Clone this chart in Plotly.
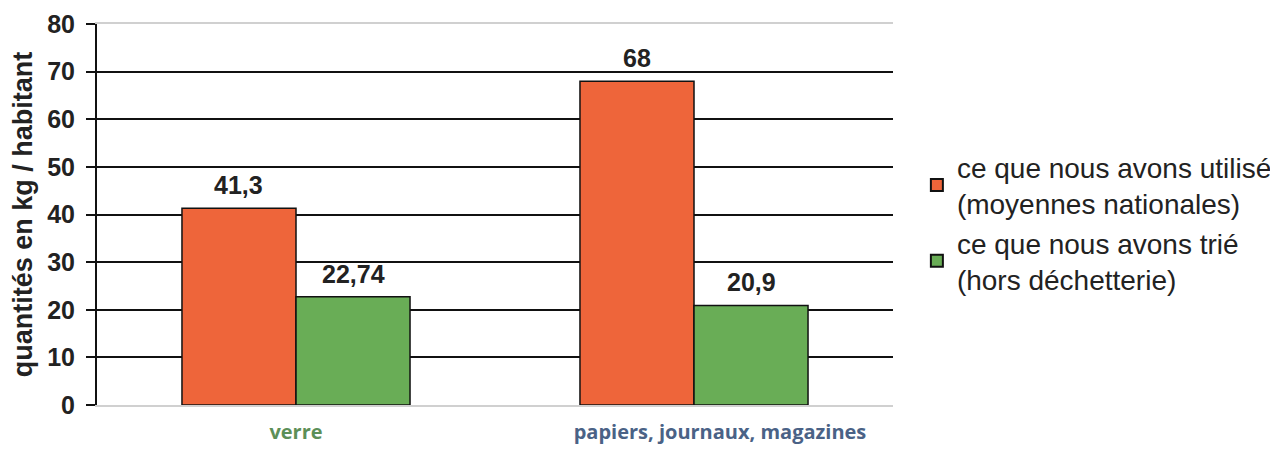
import plotly.graph_objects as go

categories = ["verre", "papiers, journaux, magazines"]
cat_colors = ["#5c8f58", "#4a6286"]
series_names = ["ce que nous avons utilisé<br>(moyennes nationales)",
                "ce que nous avons trié<br>(hors déchetterie)"]
utilise = [41.3, 68]
trie = [22.74, 20.9]
y_ticks = [0, 10, 20, 30, 40, 50, 60, 70, 80]

colors = ["#ee653a", "#69ad56"]
BARGAP = 0.427


def fmt(v):
    return ("%g" % v).replace(".", ",")


fig = go.Figure()
for name, vals, col in zip(series_names, [utilise, trie], colors):
    fig.add_trace(go.Bar(
        x=categories, y=vals, name=name,
        marker=dict(color=col, line=dict(color="#111111", width=1.5)),
    ))

# value labels above bars, positioned on the category scale
bar_w = (1 - BARGAP) / 2
offsets = [-bar_w / 2, bar_w / 2]
for j, vals in enumerate([utilise, trie]):
    for i, v in enumerate(vals):
        fig.add_annotation(
            x=i + offsets[j], y=v, text=fmt(v), showarrow=False,
            yanchor="bottom", yshift=7,
            font=dict(family="Liberation Sans", size=25, color="#222222", weight="bold"),
        )

pads = ["", "&nbsp;" * 10]
ticktext = ["<span style='color:%s'><b>%s%s</b></span>" % (c, p, t)
            for c, p, t in zip(cat_colors, pads, categories)]

fig.update_layout(
    width=1270, height=445,
    margin=dict(l=89, r=385, t=16, b=48, autoexpand=False),
    plot_bgcolor="white", paper_bgcolor="white",
    barmode="group", bargap=BARGAP, bargroupgap=0,
    showlegend=True,
    legend=dict(x=1.03, y=0.69, xanchor="left", yanchor="top",
                font=dict(family="Liberation Sans", size=28, color="#222222"),
                tracegroupgap=2, itemsizing="constant"),
    xaxis=dict(tickvals=categories, ticktext=ticktext, automargin=False,
               tickfont=dict(family="Open Sans", size=20),
               ticklabelstandoff=8,
               showline=True, linecolor="#d0d0d0", linewidth=2, mirror=True,
               ticks="", showgrid=False),
    yaxis=dict(range=[0, 80], tickvals=y_ticks, automargin=False,
               tickfont=dict(family="Liberation Sans", size=25, color="#222222", weight="bold"),
               showline=True, linecolor="#111111", linewidth=2,
               ticks="outside", ticklen=9, tickcolor="#111111", tickwidth=2,
               ticklabelstandoff=6,
               showgrid=True, gridcolor="#111111", gridwidth=1.5,
               zeroline=False,
               title=dict(text="quantités en kg / habitant", standoff=12,
                          font=dict(family="Liberation Sans", size=27, color="#222222", weight="bold"))),
)
fig.write_html("out.html")
